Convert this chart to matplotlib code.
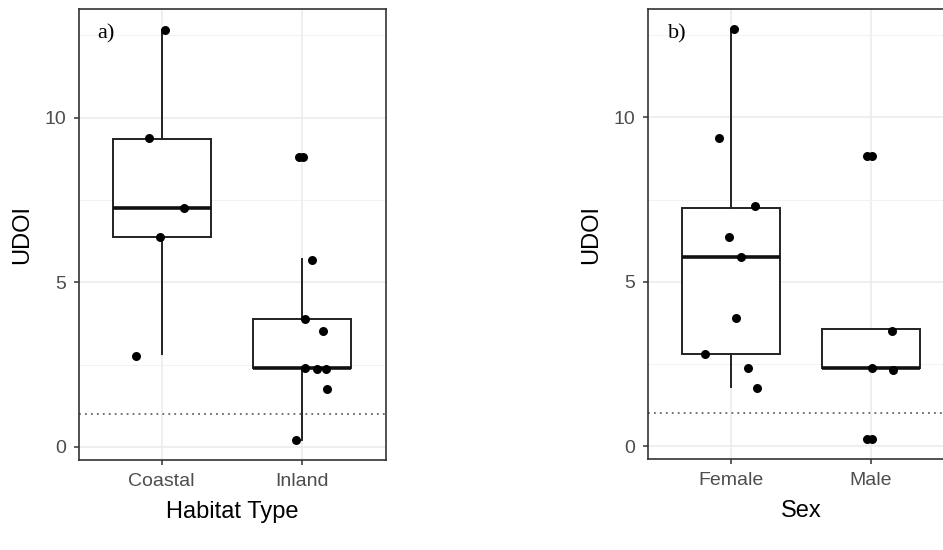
import matplotlib.pyplot as plt
import numpy as np

plt.rcParams['font.family'] = ['Liberation Sans', 'DejaVu Sans']

# panel a) habitat type
habitat_groups = ['Coastal', 'Inland']
habitat_box = {  # whislo, q1, med, q3, whishi
    'Coastal': [2.81, 6.36, 7.27, 9.36, 12.65],
    'Inland': [0.22, 2.38, 2.38, 3.87, 5.72],
}
habitat_x = [1.02, 0.91, 1.16, 0.99, 0.82,
             1.98, 2.01, 2.07, 2.02, 2.15, 2.02, 2.11, 2.17, 2.18, 1.96]
habitat_y = [12.65, 9.37, 7.25, 6.36, 2.76,
             8.79, 8.79, 5.69, 3.87, 3.52, 2.40, 2.35, 2.35, 1.77, 0.22]

# panel b) sex
sex_groups = ['Female', 'Male']
sex_box = {
    'Female': [1.80, 2.81, 5.77, 7.24, 12.68],
    'Male': [2.38, 2.38, 2.38, 3.56, 3.56],
}
sex_x = [1.02, 0.92, 1.17, 0.99, 1.07, 1.04, 0.82, 1.12, 1.19,
         1.97, 2.01, 2.15, 2.01, 2.16, 1.97, 2.01]
sex_y = [12.70, 9.38, 7.31, 6.36, 5.74, 3.90, 2.81, 2.38, 1.77,
         8.83, 8.83, 3.51, 2.38, 2.33, 0.23, 0.23]

threshold = 1.0

fig = plt.figure(figsize=(9.43, 5.5), dpi=100)
ax1 = fig.add_axes([79 / 943, 90 / 550, 307 / 943, 451 / 550])
ax2 = fig.add_axes([648 / 943, 90.7 / 550, 307 / 943, 450.3 / 550])


def panel(ax, groups, box, xs, ys, xlabel, tag, tag_x):
    stats = []
    for g in groups:
        lo, q1, med, q3, hi = box[g]
        stats.append(dict(whislo=lo, q1=q1, med=med, q3=q3, whishi=hi, label=g))
    ax.bxp(stats, positions=[1, 2], widths=0.7, showfliers=False, showcaps=False,
           patch_artist=True,
           boxprops=dict(facecolor='white', edgecolor='#222222', linewidth=1.4),
           whiskerprops=dict(color='#222222', linewidth=1.4),
           medianprops=dict(color='#111111', linewidth=2.6, solid_capstyle='butt'),
           zorder=3)
    ax.axhline(threshold, color='#666666', lw=1.3, dashes=(1, 2.3), zorder=2)
    ax.scatter(xs, ys, s=42, color='black', zorder=4, linewidths=0)

    ax.set_xlim(0.41, 2.6)
    ax.set_ylim(-0.4, 13.3)
    ax.set_yticks([0, 5, 10])
    ax.set_yticks([2.5, 7.5, 12.5], minor=True)
    ax.set_xticks([1, 2])
    ax.set_xticklabels(groups)
    ax.grid(True, which='major', color='#ebebeb', lw=1.1, zorder=0)
    ax.grid(True, which='minor', axis='y', color='#f2f2f2', lw=0.7, zorder=0)
    ax.set_axisbelow(True)
    ax.tick_params(which='major', length=3.5, width=1.1, color='#333333',
                   labelcolor='#4d4d4d', labelsize=14, pad=5.5)
    ax.tick_params(which='minor', length=0)
    for s in ax.spines.values():
        s.set_color('#333333')
        s.set_linewidth(1.2)

    ax.set_xlabel(xlabel, fontsize=17, color='black')
    ax.xaxis.set_label_coords(0.5, -0.09)
    ax.set_ylabel('UDOI', fontsize=17, color='black')
    ax.yaxis.set_label_coords(-0.15, 0.5)

    ax.text(tag_x, 12.4, tag, family=['Liberation Serif', 'DejaVu Serif'],
            fontsize=16, va='baseline', ha='left', zorder=5)


panel(ax1, habitat_groups, habitat_box, habitat_x, habitat_y, 'Habitat Type', 'a)', 0.54)
panel(ax2, sex_groups, sex_box, sex_x, sex_y, 'Sex', 'b)', 0.55)

fig.savefig('out.png', dpi=100)
